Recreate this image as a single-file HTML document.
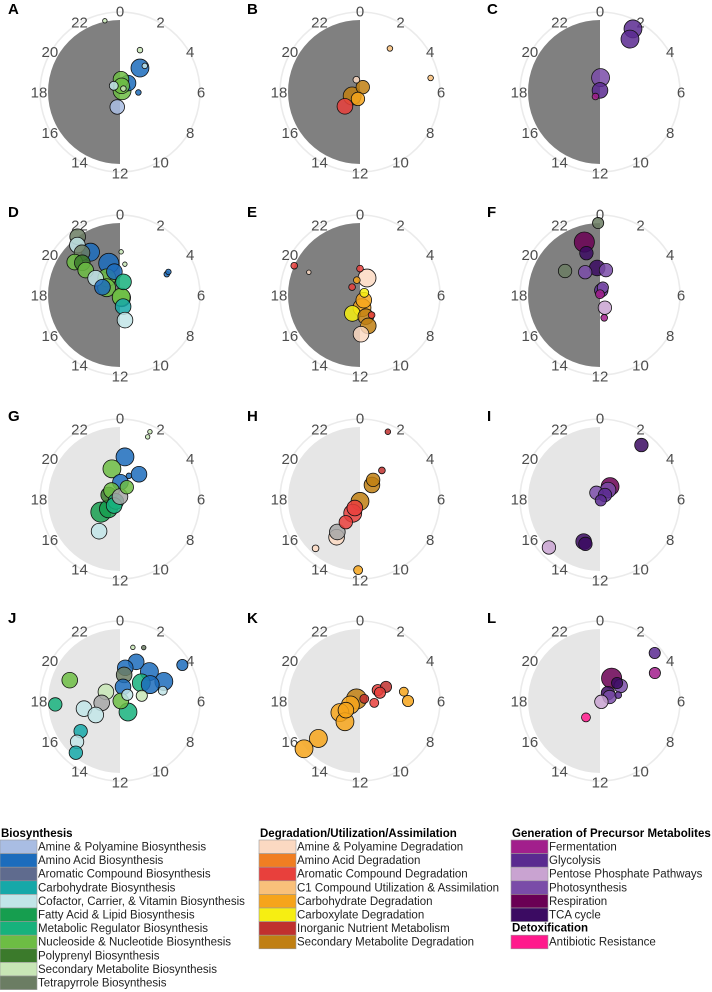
<!DOCTYPE html>
<html><head><meta charset="utf-8"><style>
html,body{margin:0;padding:0;background:#fff;}
svg{display:block;font-family:"Liberation Sans",sans-serif;}
</style></head><body>
<svg id="chart" width="712" height="992" viewBox="0 0 712 992"></svg>
<script>
const colors = {
 amine:'#a9bde3', amino:'#1c6cbc', aromatic:'#5f6b8e', carbo:'#16a8a8', cofactor:'#c2e5e8', fatty:'#169e4f', metreg:'#17b27c', nucleo:'#6dbd44', polyprenyl:'#3b7a2b', secondary:'#c8e6b6', tetra:'#6b7d63',
 amineD:'#fbd9c2', aminoD:'#f07e22', aromD:'#e8403c', c1:'#f9c07a', carbD:'#f6a41b', carboxy:'#f6ee12', inorg:'#c0302e', secD:'#c07f12',
 ferm:'#a21f8c', glyc:'#5a2a90', pentose:'#c9a3d1', photo:'#7a4ca8', resp:'#6a0054', tca:'#3b0b62', anti:'#ff1a8c', gray:'#a6a6a6'
};
const panelLetters = ['A','B','C','D','E','F','G','H','I','J','K','L'];
const hourTicks = [0,2,4,6,8,10,12,14,16,18,20,22];
// [hour, radial value (0..1), bubble size, category]
const dataA = [[23.2,.91,2,'secondary'],[1.7,.58,2.5,'secondary'],[2.65,.39,8,'amino'],[2.9,.45,2.5,'cofactor'],[2.8,.15,7,'amino'],[0.3,.16,7,'nucleo'],[21,.11,4,'cofactor'],[4,.03,8,'nucleo'],[1,.08,7,'nucleo'],[3,.06,2.5,'secondary'],[6.1,.23,2.5,'amino'],[12.7,.19,6.5,'amine']];
const dataB = [[2.3,.66,2.5,'c1'],[5.25,.9,2.5,'c1'],[22.9,.16,3,'amineD'],[2,.07,6,'secD'],[13.1,.09,6,'carbD'],[16.2,.11,8,'secD'],[15.1,.26,7,'aromD']];
const dataC = [[1.84,.89,8,'glyc'],[1.97,.76,8,'glyc'],[0.15,.18,8,'photo'],[0,.02,7,'glyc'],[15,.08,3,'ferm']];
const dataD = [[21.6,.9,7,'tetra'],[21.3,.82,7,'cofactor'],[21.7,.65,8,'amino'],[21.2,.71,7,'tetra'],[20.4,.7,7,'nucleo'],[20.7,.62,7,'polyprenyl'],[20.4,.53,7,'nucleo'],[20.3,.37,7,'cofactor'],[22.7,.42,9,'amino'],[23.1,.3,7,'amino'],[21.5,.27,8,'nucleo'],[19.9,.19,8,'nucleo'],[19.6,.24,7,'amino'],[10,.04,8,'nucleo'],[1,.17,7,'metreg'],[10,.03,8,'nucleo'],[11,.15,7,'carbo'],[11.25,.32,7,'cofactor'],[0.1,.54,2,'secondary'],[0.6,.39,2,'secondary'],[4.4,.64,2.5,'amino'],[4.3,.67,2.5,'amino']];
const dataE = [[19.6,.9,3,'aromD'],[19.6,.7,2,'amineD'],[1.5,.23,8,'amineD'],[0,.33,3,'aromD'],[23.2,.19,3,'carbD'],[21,.14,3,'aromD'],[4.2,.06,4,'carboxy'],[9.6,.08,7,'carbD'],[11.4,.16,8,'carbD'],[13.5,.25,7,'carboxy'],[11,.28,7,'secD'],[11,.4,7,'secD'],[11.9,.49,7,'amineD'],[10,.29,3,'aromD']];
const dataF = [[23.9,.9,5,'tetra'],[22.9,.69,9,'resp'],[22.8,.55,6,'tca'],[20.3,.53,6,'tetra'],[21.8,.34,6,'photo'],[23.6,.34,7,'tca'],[0.9,.32,6,'photo'],[1.4,.1,5,'photo'],[1,.06,6,'glyc'],[0,.01,4,'ferm'],[10.6,.17,6,'pentose'],[11.3,.29,3,'ferm']];
const dataG = [[1.6,.92,2,'secondary'],[1.6,.85,2,'secondary'],[0.45,.53,8,'amino'],[2.5,.39,7,'amino'],[23,.39,8,'nucleo'],[1.4,.31,2.5,'amino'],[0.1,.21,7,'amino'],[2,.17,6,'nucleo'],[19.3,.15,7,'polyprenyl'],[21,.15,7,'nucleo'],[16,.06,7,'metreg'],[14.8,.11,7,'metreg'],[15.3,.19,8,'fatty'],[15.7,.29,9,'fatty'],[14.2,.48,7,'cofactor'],[0,.03,7,'gray']];
const dataH = [[1.5,.91,2.5,'inorg'],[2.5,.45,3,'inorg'],[2.3,.29,6,'secD'],[2.7,.23,7,'secD'],[12,.03,8,'secD'],[14,.13,7,'aromD'],[13.8,.2,8,'aromD'],[14.1,.34,6,'aromD'],[14.1,.56,7,'amineD'],[14.3,.5,7,'gray'],[14.8,.83,3,'amineD'],[12.1,.89,4,'carbD']];
const dataI = [[2.5,.85,6,'tca'],[2.6,.2,8,'resp'],[2.8,.15,7,'photo'],[22,.09,6,'photo'],[3.4,.08,6,'glyc'],[10,.02,5,'glyc'],[13.4,.57,7,'tca'],[13.2,.59,6,'tca'],[15.1,.88,6,'pentose']];
const dataJ = [[0.9,.69,2,'secondary'],[1.6,.73,2,'tetra'],[1.5,.53,7,'amino'],[0.6,.42,7,'amino'],[3,.52,8,'amino'],[4,.9,5,'amino'],[4.4,.6,8,'amino'],[19.5,.68,7,'nucleo'],[0.6,.33,7,'tetra'],[3.3,.35,8,'metreg'],[4.1,.43,8,'amino'],[5.1,.55,4,'cofactor'],[0.8,.18,7,'amino'],[20.2,.21,7,'secondary'],[3.3,.12,5,'cofactor'],[5.1,.28,5,'secondary'],[17.6,.23,7,'gray'],[6,.01,7,'nucleo'],[17.8,.81,6,'metreg'],[17.2,.46,7,'cofactor'],[16,.35,7,'cofactor'],[9.6,.17,8,'metreg'],[15.5,.62,6,'carbo'],[15.1,.74,6,'cofactor'],[14.7,.85,6,'carbo']];
const dataK = [[3.9,.26,5,'aromD'],[4.1,.37,5,'inorg'],[4.5,.27,5,'aromD'],[6.5,.18,4,'aromD'],[4.2,.06,4,'inorg'],[5.2,.56,4,'carbD'],[6,.6,5,'carbD'],[16.5,.13,8,'carbD'],[20,.05,9,'secD'],[15.8,.21,7,'carbD'],[16,.29,8,'carbD'],[14.4,.32,8,'carbD'],[15.2,.7,8,'carbD'],[15.3,.92,8,'carbD']];
const dataL = [[3.25,.91,5,'glyc'],[4.2,.77,5,'ferm'],[1.8,.32,9,'resp'],[3.6,.32,6,'photo'],[2.9,.31,5,'tca'],[3,.14,6,'tca'],[4.5,.13,6,'photo'],[4.8,.24,3,'glyc'],[8,.02,6,'pentose'],[14.7,.27,4,'anti']];
const panels = [dataA,dataB,dataC,dataD,dataE,dataF,dataG,dataH,dataI,dataJ,dataK,dataL];

const legendHeads = ['Biosynthesis','Degradation/Utilization/Assimilation','Generation of Precursor Metabolites'];
const legend1 = [['Amine & Polyamine Biosynthesis','amine'],['Amino Acid Biosynthesis','amino'],['Aromatic Compound Biosynthesis','aromatic'],['Carbohydrate Biosynthesis','carbo'],['Cofactor, Carrier, & Vitamin Biosynthesis','cofactor'],['Fatty Acid & Lipid Biosynthesis','fatty'],['Metabolic Regulator Biosynthesis','metreg'],['Nucleoside & Nucleotide Biosynthesis','nucleo'],['Polyprenyl Biosynthesis','polyprenyl'],['Secondary Metabolite Biosynthesis','secondary'],['Tetrapyrrole Biosynthesis','tetra']];
const legend2 = [['Amine & Polyamine Degradation','amineD'],['Amino Acid Degradation','aminoD'],['Aromatic Compound Degradation','aromD'],['C1 Compound Utilization & Assimilation','c1'],['Carbohydrate Degradation','carbD'],['Carboxylate Degradation','carboxy'],['Inorganic Nutrient Metabolism','inorg'],['Secondary Metabolite Degradation','secD']];
const legend3 = [['Fermentation','ferm'],['Glycolysis','glyc'],['Pentose Phosphate Pathways','pentose'],['Photosynthesis','photo'],['Respiration','resp'],['TCA cycle','tca'],['Detoxification',null],['Antibiotic Resistance','anti']];

const NS='http://www.w3.org/2000/svg';
const svg=document.getElementById('chart');
function mk(tag,attrs,parent){const e=document.createElementNS(NS,tag);for(const k in attrs)e.setAttribute(k,attrs[k]);(parent||svg).appendChild(e);return e;}
const colX=[120,360,600], rowY=[92,295,499,701], letterX=[8,247,487];
const RING=80, DISC=72, LAB=81, SIZE_SCALE=1.12;
function angle(h){return h*15*Math.PI/180;}
function px(cx,h,r){return cx+Math.sin(angle(h))*r*RING;}
function py(cy,h,r){return cy-Math.cos(angle(h))*r*RING;}

panels.forEach((data,i)=>{
  const cx=colX[i%3], cy=rowY[Math.floor(i/3)];
  const g=mk('g',{});
  
  
  const ring=mk('circle',{cx:cx,cy:cy,r:RING,fill:'none',stroke:'#ebebeb','stroke-width':1.6},g);
  
  
  const dark=i<6;
  const disc=mk('path',{d:`M${cx},${cy-DISC} A${DISC},${DISC} 0 0 0 ${cx},${cy+DISC} Z`,fill:dark?'#808080':'#e6e6e6'},g);
  
  
  hourTicks.forEach(h=>{
    const t=mk('text',{x:px(cx,h,LAB/RING),y:py(cy,h,LAB/RING)+5.5,'text-anchor':'middle','font-size':15,fill:'#4d4d4d'},g);
    t.textContent=h;
    
    
  });
  const L=mk('text',{x:letterX[i%3],y:cy-78,'font-size':15,'font-weight':'bold',fill:'#000'},g);
  L.textContent=panelLetters[i];
  
  
  data.slice().sort((a,b)=>b[2]-a[2]).forEach(d=>{
    const c=mk('circle',{cx:px(cx,d[0],d[1]),cy:py(cy,d[0],d[1]),r:d[2]*SIZE_SCALE,fill:colors[d[3]],'fill-opacity':0.85,stroke:'#111','stroke-width':0.8},g);
    
    
  });
});

// legend
const legX=[0,259,511], rowH=13.6, top0=840;
[legend1,legend2,legend3].forEach((items,ci)=>{
  const x=legX[ci];
  const hd=mk('text',{x:x+1,y:837,'font-size':11.5,'font-weight':'bold',fill:'#000'});
  hd.textContent=legendHeads[ci];
  
  
  items.forEach((it,j)=>{
    const y=top0+j*rowH;
    if(it[1]===null){
      const s=mk('text',{x:x+1,y:y+10,'font-size':11.5,'font-weight':'bold',fill:'#000'});
      s.textContent=it[0];
      
      
      return;
    }
    const r=mk('rect',{x:x,y:y,width:37,height:rowH,fill:colors[it[1]],stroke:'#9a9a9a','stroke-width':0.6});
    
    
    const t=mk('text',{x:x+38,y:y+10.5,'font-size':11.5,fill:'#222'});
    t.textContent=it[0];
    
    
  });
});
</script>
</body></html>
